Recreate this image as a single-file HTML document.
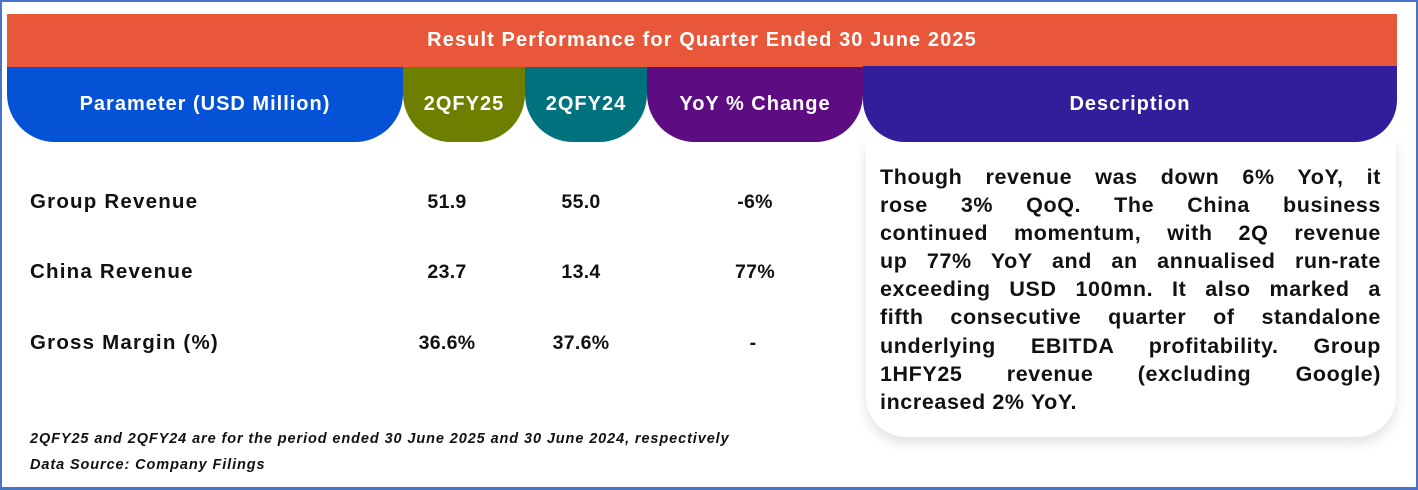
<!DOCTYPE html>
<html><head><meta charset="utf-8"><style>
*{margin:0;padding:0;box-sizing:border-box}
body{width:1418px;height:490px;background:#fff;position:relative;overflow:hidden;font-family:"Liberation Sans",sans-serif;font-weight:bold}
.frame{position:absolute;left:0;top:0;width:1418px;height:490px;border:2px solid #4a74c9;border-bottom-width:3px}
.abs{position:absolute}
.title{left:7px;top:14px;width:1390px;height:53px;background:#e8573a;color:#fff;font-size:20px;letter-spacing:1.1px;text-align:center;line-height:53px}
.pill{top:67px;height:75px;color:#fff;font-size:20px;letter-spacing:1px;display:flex;align-items:center;justify-content:center;border-radius:0 0 48px 48px}
.lbl{left:30px;font-size:20.5px;letter-spacing:1.2px;color:#111}
.val{font-size:19.5px;letter-spacing:0.3px;color:#111;text-align:center;width:120px}
.desc{left:866px;top:141px;width:530px;height:296px;border-radius:0 0 40px 40px;box-shadow:0 6px 12px rgba(0,0,0,0.12);background:#fff}
.dl{position:absolute;left:880px;width:501px;font-size:21.5px;letter-spacing:0.6px;color:#111;text-align:justify;text-align-last:justify;white-space:nowrap;line-height:28px}
.dl.last{text-align-last:left}
.foot{left:30px;font-size:14.5px;font-style:italic;color:#111}
</style></head><body>
<div class="frame"></div>
<div class="abs title">Result Performance for Quarter Ended 30 June 2025</div>
<div class="abs desc"></div>
<div class="abs pill" style="left:7px;width:396px;background:#0552d6">Parameter (USD Million)</div>
<div class="abs pill" style="left:403px;width:122px;background:#6e7f00">2QFY25</div>
<div class="abs pill" style="left:525px;width:122px;background:#00727e">2QFY24</div>
<div class="abs pill" style="left:647px;width:216px;background:#5d0c82">YoY % Change</div>
<div class="abs pill" style="left:863px;width:534px;top:66px;height:76px;background:#311e9a;border-radius:0 0 42px 42px">Description</div>

<div class="abs lbl" style="top:190px">Group Revenue</div>
<div class="abs val" style="left:387px;top:191px">51.9</div>
<div class="abs val" style="left:521px;top:191px">55.0</div>
<div class="abs val" style="left:695px;top:191px">-6%</div>

<div class="abs lbl" style="top:260px">China Revenue</div>
<div class="abs val" style="left:387px;top:261px">23.7</div>
<div class="abs val" style="left:521px;top:261px">13.4</div>
<div class="abs val" style="left:695px;top:261px">77%</div>

<div class="abs lbl" style="top:331px">Gross Margin (%)</div>
<div class="abs val" style="left:387px;top:332px">36.6%</div>
<div class="abs val" style="left:521px;top:332px">37.6%</div>
<div class="abs val" style="left:693px;top:332px">-</div>

<div>
<div class="dl" style="top:163px">Though revenue was down 6% YoY, it</div>
<div class="dl" style="top:191px">rose 3% QoQ. The China business</div>
<div class="dl" style="top:219px">continued momentum, with 2Q revenue</div>
<div class="dl" style="top:247px">up 77% YoY and an annualised run-rate</div>
<div class="dl" style="top:275px">exceeding USD 100mn. It also marked a</div>
<div class="dl" style="top:303px">fifth consecutive quarter of standalone</div>
<div class="dl" style="top:332px">underlying EBITDA profitability. Group</div>
<div class="dl" style="top:360px">1HFY25 revenue (excluding Google)</div>
<div class="dl last" style="top:388px">increased 2% YoY.</div>
</div>

<div class="abs foot" style="top:431px;letter-spacing:0.9px">2QFY25 and 2QFY24 are for the period ended 30 June 2025 and 30 June 2024, respectively</div>
<div class="abs foot" style="top:457px;letter-spacing:0.9px">Data Source: Company Filings</div>
</body></html>
